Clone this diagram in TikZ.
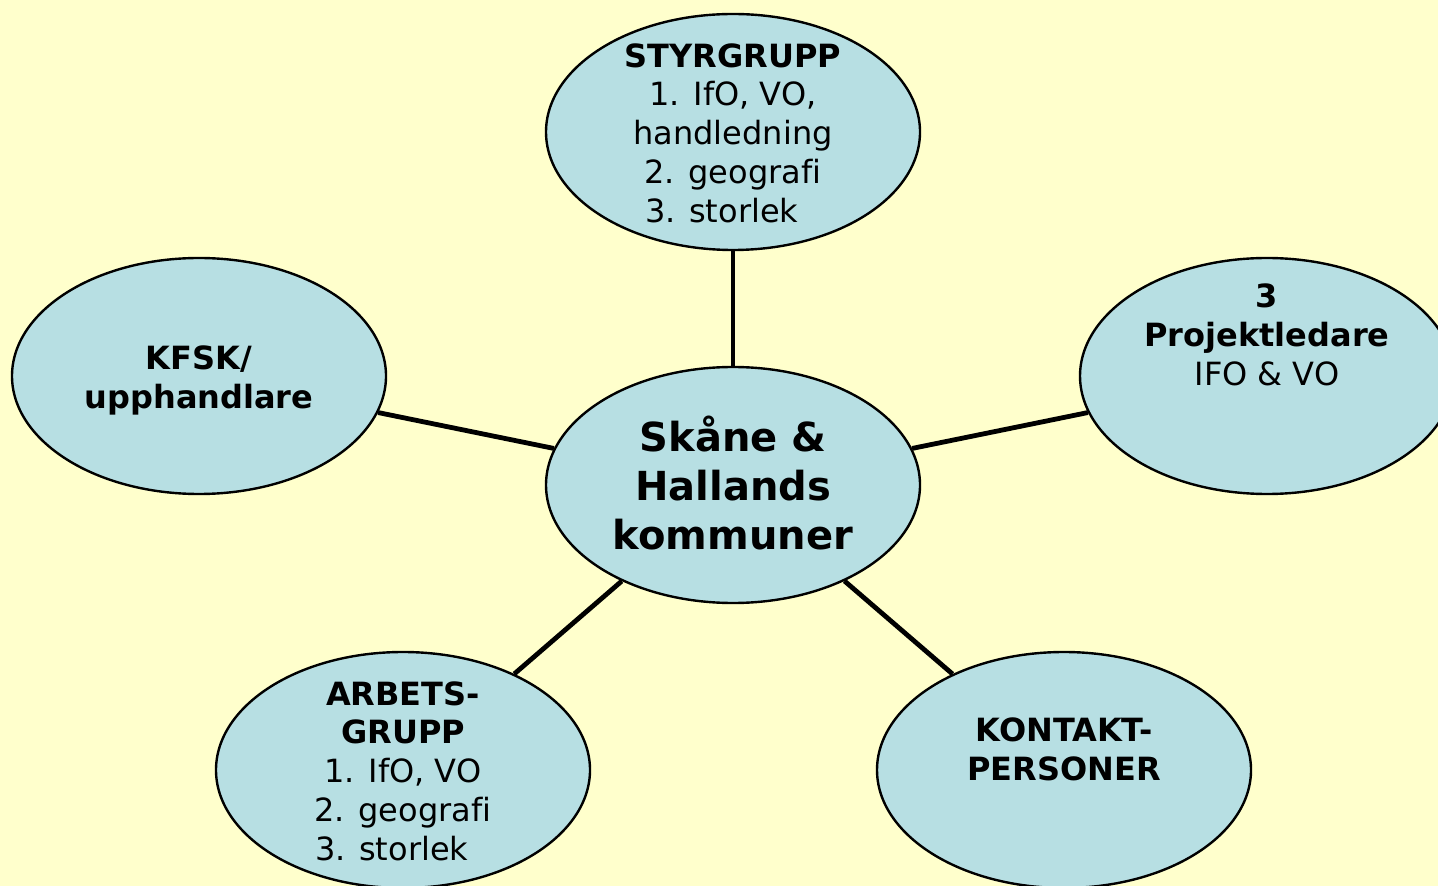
\documentclass[tikz,border=0pt]{standalone}
\usepackage{fontspec}
\setmainfont{DejaVu Sans}[Ligatures=NoCommon]
\usepackage{xcolor}
\usetikzlibrary{shapes.geometric}

\definecolor{bgyellow}{HTML}{FFFFCC}
\definecolor{bubblefill}{HTML}{B7DFE3}

% text block that does not make the ellipse grow
\newcommand{\bubbletext}[1]{\vbox to 0pt{\vss\kern5pt\hbox{\begin{tabular}{@{}c@{}}#1\end{tabular}}\vss}}

\begin{document}
\begin{tikzpicture}[x=0.5pt,y=-0.5pt,thick,
    bubble/.style={ellipse,draw=black,line width=1.2pt,fill=bubblefill,inner sep=0pt,
        minimum width=187pt,minimum height=118pt,font=\fontsize{16}{19.4}\selectfont},
    hub/.style={bubble,font=\fontsize{20}{24.3}\selectfont\bfseries}]
            \fill[bgyellow] (0,0) rectangle (1438,886);
            \useasboundingbox (0,0) rectangle (1438,886);

            \node[hub] (c) at (733,485) {\bubbletext{Skåne \&\\Hallands\\kommuner}};

            \node[bubble] (styr) at (733,132) {\bubbletext{\textbf{STYRGRUPP}\\1. IfO, VO,\\handledning\\2. geografi\\3. storlek\hspace*{0.7em}}};
            \node[bubble] (kfsk) at (199,376) {\bubbletext{\textbf{KFSK/}\\\textbf{upphandlare}}};
            \node[bubble] (proj) at (1267,376) {\bubbletext{\textbf{3}\\\textbf{Projektledare}\\IFO \& VO\\[42pt]}};
            \node[bubble] (arb) at (403,770) {\bubbletext{\textbf{ARBETS-}\\\textbf{GRUPP}\\1. IfO, VO\\2. geografi\\3. storlek\hspace*{0.7em}}};
            \node[bubble] (kont) at (1064,770) {\bubbletext{\textbf{KONTAKT-}\\\textbf{PERSONER}\\[22pt]}};

            \path[draw=black,line width=2.4pt]
                (c) edge (styr)
                (c) edge (kfsk)
                (c) edge (proj)
                (c) edge (arb)
                (c) edge (kont)
                ;
        \end{tikzpicture}
\end{document}
